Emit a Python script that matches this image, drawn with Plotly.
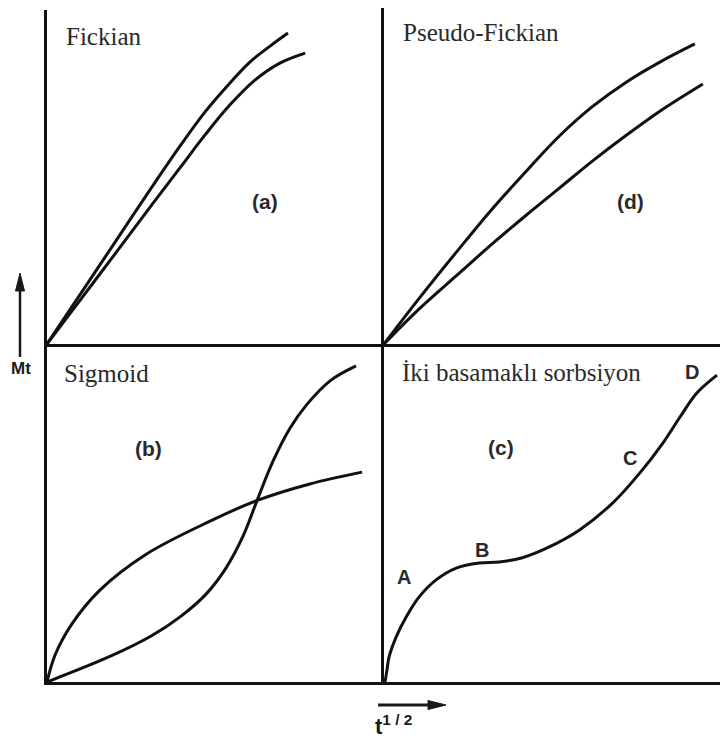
import plotly.graph_objects as go

# Sorption curves: uptake Mt (0-10 arbitrary units) vs sqrt(t) (0-10 arbitrary units)

# (a) Fickian
fick_x_upper = [0, 1.04, 2.08, 3.12, 3.95, 4.69, 5.37, 6.02, 6.62, 7.15]
fick_y_upper = [0, 1.57, 3.14, 4.71, 5.93, 6.95, 7.75, 8.44, 8.92, 9.31]
fick_x_lower = [0, 1.04, 2.08, 3.12, 3.95, 4.69, 5.43, 6.17, 6.91, 7.66]
fick_y_lower = [0, 1.39, 2.78, 4.18, 5.28, 6.26, 7.16, 7.90, 8.41, 8.71]

# (d) Pseudo-Fickian
pseudo_x_upper = [0, 1.04, 2.24, 3.22, 4.24, 5.22, 6.21, 7.22, 8.21, 9.25]
pseudo_y_upper = [0, 1.35, 2.84, 4.02, 5.15, 6.19, 7.07, 7.80, 8.39, 8.93]
pseudo_x_lower = [0, 1.04, 2.24, 3.22, 4.24, 5.22, 6.21, 7.22, 8.21, 9.49]
pseudo_y_lower = [0, 1.04, 2.11, 2.98, 3.84, 4.64, 5.45, 6.22, 6.93, 7.74]

# (b) Sigmoid
sig_x = [0, 1.90, 3.09, 3.98, 4.72, 5.31, 5.82, 6.26, 6.71, 7.21, 7.72, 8.40, 9.17]
sig_y = [0, 0.77, 1.36, 1.95, 2.60, 3.37, 4.32, 5.44, 6.54, 7.51, 8.22, 8.91, 9.35]
conc_x = [0, 0.24, 0.74, 1.57, 2.91, 4.84, 6.26, 7.80, 9.35]
conc_y = [0, 0.80, 1.72, 2.72, 3.76, 4.76, 5.38, 5.86, 6.21]

# (c) Two-step sorption
two_x = [0.03, 0.09, 0.15, 0.36, 0.66, 1.04, 1.55, 2.15, 2.84, 3.43, 4.09,
         4.84, 5.82, 6.81, 7.61, 8.30, 8.81, 9.31, 9.91]
two_y = [0, 0.36, 0.74, 1.33, 1.92, 2.51, 3.02, 3.37, 3.52, 3.55, 3.67,
         3.96, 4.50, 5.30, 6.18, 7.07, 7.84, 8.55, 9.08]

stage_labels = ["A", "B", "C", "D"]
stage_x = [0.60, 2.93, 7.31, 9.16]
stage_y = [3.11, 3.91, 6.63, 9.17]

W, H = 720, 739


def px_x(p):
    return p / W


def px_y(p):
    return 1 - p / H


line_style = dict(color="#111111", width=3, shape="spline", smoothing=1.0)

fig = go.Figure()

curves = [
    ("x", "y", fick_x_upper, fick_y_upper),
    ("x", "y", fick_x_lower, fick_y_lower),
    ("x2", "y2", pseudo_x_upper, pseudo_y_upper),
    ("x2", "y2", pseudo_x_lower, pseudo_y_lower),
    ("x3", "y3", sig_x, sig_y),
    ("x3", "y3", conc_x, conc_y),
    ("x4", "y4", two_x, two_y),
]
for xa, ya, xs, ys in curves:
    fig.add_trace(go.Scatter(x=xs, y=ys, mode="lines", line=line_style,
                             xaxis=xa, yaxis=ya, showlegend=False,
                             hoverinfo="skip"))

axis_common = dict(range=[0, 10], showgrid=False, zeroline=False,
                   showticklabels=False, ticks="", showline=True,
                   linecolor="#111111", fixedrange=True)

left = [px_x(47), px_x(384)]
right = [px_x(384), 1.0]
top_l = [px_y(344), px_y(10)]
top_r = [px_y(344), px_y(8)]
bot = [px_y(682), px_y(344)]

fig.update_layout(
    width=W, height=H,
    margin=dict(l=0, r=0, t=0, b=0),
    paper_bgcolor="white", plot_bgcolor="rgba(0,0,0,0)",
    xaxis=dict(domain=left, anchor="y", linewidth=3, **axis_common),
    yaxis=dict(domain=top_l, anchor="x", linewidth=2.5, **axis_common),
    xaxis2=dict(domain=right, anchor="y2", linewidth=3, **axis_common),
    yaxis2=dict(domain=top_r, anchor="x2", linewidth=2.5, **axis_common),
    xaxis3=dict(domain=left, anchor="y3", linewidth=3, **axis_common),
    yaxis3=dict(domain=bot, anchor="x3", linewidth=2.5, **axis_common),
    xaxis4=dict(domain=right, anchor="y4", linewidth=3, **axis_common),
    yaxis4=dict(domain=bot, anchor="x4", linewidth=2.5, **axis_common),
)

serif = dict(family="Liberation Serif, Times New Roman, serif", size=25, color="#2a2a2a")
bold_sans = dict(family="Liberation Sans, Arial, sans-serif", size=21, color="#2a2a2a")
stage_font = dict(family="Liberation Sans, Arial, sans-serif", size=20, color="#2a2a2a")

ann = []
# panel titles
for txt, xa, ya, x, y in [
    ("Fickian", "x", "y", 1.69, 9.22),
    ("Pseudo-Fickian", "x2", "y2", 2.90, 9.26),
    ("Sigmoid", "x3", "y3", 1.78, 9.14),
    ("İki basamaklı sorbsiyon", "x4", "y4", 4.09, 9.17),
]:
    ann.append(dict(text=txt, xref=xa, yref=ya, x=x, y=y, showarrow=False,
                    font=serif, xanchor="center", yanchor="middle"))

# panel letters
for txt, xa, ya, x, y in [
    ("(a)", "x", "y", 6.47, 4.28),
    ("(d)", "x2", "y2", 7.34, 4.23),
    ("(b)", "x3", "y3", 3.00, 6.92),
    ("(c)", "x4", "y4", 3.49, 6.95),
]:
    ann.append(dict(text="<b>" + txt + "</b>", xref=xa, yref=ya, x=x, y=y,
                    showarrow=False, font=bold_sans,
                    xanchor="center", yanchor="middle"))

# stage markers on the two-step curve
for lab, x, y in zip(stage_labels, stage_x, stage_y):
    ann.append(dict(text="<b>" + lab + "</b>", xref="x4", yref="y4", x=x, y=y,
                    showarrow=False, font=stage_font,
                    xanchor="center", yanchor="middle"))

# axis quantity labels
ann.append(dict(xref="paper", yref="paper", x=px_x(21), y=px_y(368),
                text="<b>Mt</b>", showarrow=False,
                font=dict(family="Liberation Sans, Arial, sans-serif", size=17,
                          color="#1a1a1a"),
                xanchor="center", yanchor="middle"))
ann.append(dict(xref="paper", yref="paper", x=px_x(373), y=px_y(725),
                text="<b>t<sup>1 / 2</sup></b>", showarrow=False,
                font=dict(family="Liberation Sans, Arial, sans-serif", size=22,
                          color="#1a1a1a"),
                xanchor="left", yanchor="middle"))

fig.update_layout(annotations=ann)

# direction arrows for Mt (up) and t^1/2 (right)
arrow_col = "#1a1a1a"
shapes = [
    dict(type="line", xref="paper", yref="paper",
         x0=px_x(20), x1=px_x(20), y0=px_y(357), y1=px_y(288),
         line=dict(color=arrow_col, width=2.5)),
    dict(type="path", xref="paper", yref="paper",
         path="M {} {} L {} {} L {} {} Z".format(
             px_x(20), px_y(273), px_x(15.5), px_y(291), px_x(24.5), px_y(291)),
         fillcolor=arrow_col, line=dict(color=arrow_col, width=1)),
    dict(type="line", xref="paper", yref="paper",
         x0=px_x(378), x1=px_x(430), y0=px_y(705), y1=px_y(705),
         line=dict(color=arrow_col, width=3)),
    dict(type="path", xref="paper", yref="paper",
         path="M {} {} L {} {} L {} {} Z".format(
             px_x(446), px_y(705), px_x(428), px_y(700.5), px_x(428), px_y(709.5)),
         fillcolor=arrow_col, line=dict(color=arrow_col, width=1)),
]
fig.update_layout(shapes=shapes)

fig.write_html("out.html")
